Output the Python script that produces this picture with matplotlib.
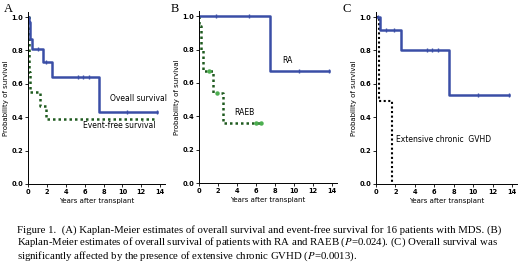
import matplotlib
matplotlib.use("Agg")
import matplotlib.pyplot as plt

plt.rcParams["mathtext.fontset"] = "stix"

# Panel A
a_os_t = [0, 0.1, 0.2, 0.4, 1.6, 2.5, 7.5, 13.7]
a_os_s = [1.0, 0.97, 0.87, 0.81, 0.73, 0.64, 0.43, 0.43]
a_os_cens_t = [1.1, 1.9, 5.3, 5.8, 6.5, 10.5, 13.7]
a_os_cens_s = [0.81, 0.73, 0.64, 0.64, 0.64, 0.43, 0.43]
a_efs_t = [0, 0.05, 0.1, 0.15, 0.25, 1.3, 1.9, 13.7]
a_efs_s = [1.0, 0.875, 0.8, 0.67, 0.55, 0.47, 0.39, 0.39]

# Panel B
b_ra_t = [0, 7.5, 13.7]
b_ra_s = [1.0, 0.67, 0.67]
b_ra_cens_t = [1.8, 5.3, 10.5, 13.7]
b_ra_cens_s = [1.0, 1.0, 0.67, 0.67]
b_raeb_t = [0, 0.05, 0.2, 0.4, 1.5, 2.5, 6.5]
b_raeb_s = [1.0, 0.94, 0.8, 0.67, 0.54, 0.36, 0.36]
b_raeb_cens_t = [1.0, 1.9, 6.0, 6.5]
b_raeb_cens_s = [0.67, 0.54, 0.36, 0.36]

# Panel C
c_no_t = [0, 0.4, 2.6, 7.5, 13.7]
c_no_s = [1.0, 0.92, 0.80, 0.535, 0.535]
c_no_cens_t = [0.2, 1.0, 1.9, 5.3, 5.8, 6.4, 10.5, 13.7]
c_no_cens_s = [1.0, 0.92, 0.92, 0.80, 0.80, 0.80, 0.535, 0.535]
c_gv_t = [0, 0.3, 1.6]
c_gv_s = [1.0, 0.5, 0.0]

xticks = [0, 2, 4, 6, 8, 10, 12, 14]
yticks = [0.0, 0.2, 0.4, 0.6, 0.8, 1.0]

BLUE = "#3a4ea6"
GREEN = "#1f5a1f"
LGREEN = "#4caf50"

fig = plt.figure(figsize=(5.2, 2.65), dpi=100)

def make_ax(rect):
    ax = fig.add_axes(rect)
    ax.set_xlim(0, 14.5)
    ax.set_ylim(0, 1.03)
    ax.set_xticks(xticks)
    ax.set_yticks(yticks)
    ax.set_xticklabels([str(v) for v in xticks], fontsize=4.8, fontweight="bold")
    ax.set_yticklabels(["%.1f" % v for v in yticks], fontsize=4.8, fontweight="bold")
    ax.tick_params(length=2, width=0.6, pad=1.5)
    for s in ["top", "right"]:
        ax.spines[s].set_visible(False)
    for s in ["left", "bottom"]:
        ax.spines[s].set_linewidth(0.7)
    ax.set_xlabel("Years after transplant", fontsize=5, labelpad=2)
    ax.set_ylabel("Probability of survival", fontsize=5, labelpad=2)
    return ax

axA = make_ax([0.054, 0.3057, 0.263, 0.649])
axB = make_ax([0.3827, 0.309, 0.265, 0.649])
axC = make_ax([0.723, 0.3057, 0.271, 0.649])

# A
axA.step(a_efs_t, a_efs_s, where="post", color=GREEN, lw=1.8, ls=(0, (1, 1.2)))
axA.step(a_os_t, a_os_s, where="post", color=BLUE, lw=1.8)
axA.plot(a_os_cens_t, a_os_cens_s, ls="none", marker="|", color=BLUE, ms=3, mew=1)
axA.text(8.7, 0.50, "Oveall survival", fontsize=5.5)
axA.text(5.8, 0.335, "Event-free survival", fontsize=5.5)

# B
axB.step(b_raeb_t, b_raeb_s, where="post", color=GREEN, lw=1.8, ls=(0, (1, 1.2)))
axB.plot(b_raeb_cens_t, b_raeb_cens_s, ls="none", marker="o", color=LGREEN, ms=2.2)
axB.step(b_ra_t, b_ra_s, where="post", color=BLUE, lw=1.8)
axB.plot(b_ra_cens_t, b_ra_cens_s, ls="none", marker="|", color=BLUE, ms=3, mew=1)
axB.text(8.8, 0.72, "RA", fontsize=5.5)
axB.text(3.7, 0.41, "RAEB", fontsize=5.5)

# C
axC.step(c_gv_t, c_gv_s, where="post", color="black", lw=1.5, ls=(0, (1, 1.2)))
axC.step(c_no_t, c_no_s, where="post", color=BLUE, lw=1.8)
axC.plot(c_no_cens_t, c_no_cens_s, ls="none", marker="|", color=BLUE, ms=3, mew=1)
axC.text(2.06, 0.25, "Extensive chronic  GVHD", fontsize=5.5)

fig.text(0.008, 0.965, "A", fontsize=9, family="Liberation Serif", va="center")
fig.text(0.328, 0.965, "B", fontsize=9, family="Liberation Serif", va="center")
fig.text(0.658, 0.965, "C", fontsize=9, family="Liberation Serif", va="center")

caption = ("Figure 1.  (A) Kaplan-Meier estimates of overall survival and event-free survival for 16 patients with MDS. (B)\n"
           "Kaplan-Meier estimates of overall survival of patients with RA and RAEB ($\\it{P}$=0.024). (C) Overall survival was\n"
           "significantly affected by the presence of extensive chronic GVHD ($\\it{P}$=0.0013).")
fig.text(0.033, 0.079, caption, fontsize=7.75, family="Liberation Serif", va="center", ha="left", linespacing=1.1)

fig.savefig("out.png", dpi=100)
